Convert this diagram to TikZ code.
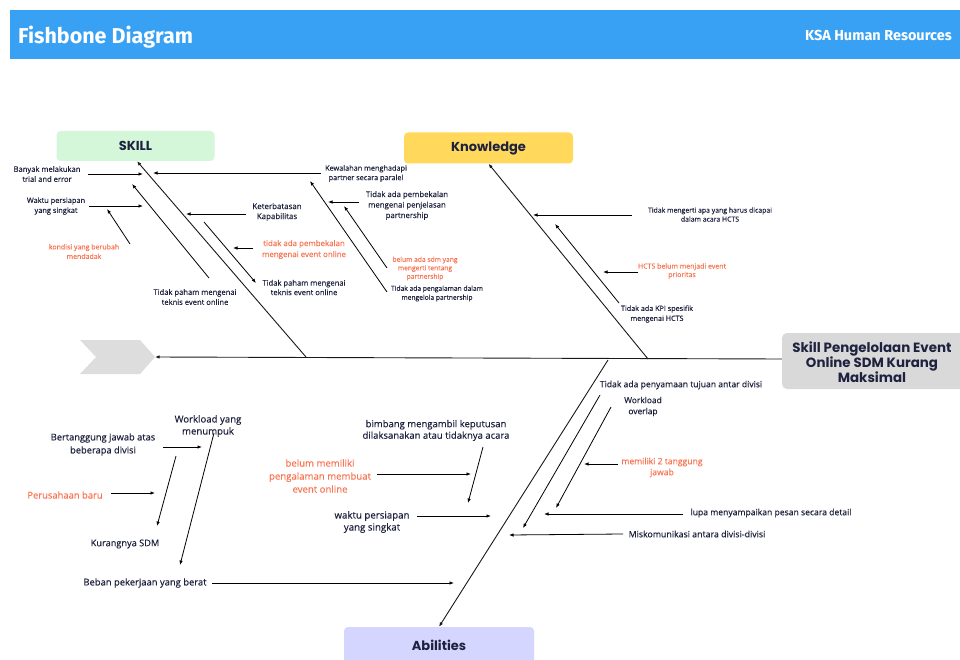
\documentclass[tikz,border=0pt]{standalone}
\usepackage{fontspec}
\setmainfont{Open Sans}[FakeBold=0.35]
\newfontfamily\popp{Poppins}
\newfontfamily\fira{Fira Sans}
\usetikzlibrary{arrows.meta}
\definecolor{hdr}{RGB}{56,161,243}
\definecolor{ink}{RGB}{30,34,62}
\definecolor{orng}{RGB}{248,118,84}
\definecolor{skillc}{RGB}{212,247,218}
\definecolor{knowc}{RGB}{255,216,92}
\definecolor{abilc}{RGB}{212,214,255}
\definecolor{effc}{RGB}{217,217,217}
\definecolor{chevc}{RGB}{221,221,221}
\newcommand\fsz[2]{\fontsize{#1}{#2}\selectfont}
\tikzset{
  lbl/.style={align=center, inner sep=0pt, text=ink},
  orl/.style={lbl, text=orng},
  arr/.style={draw=black, line width=0.8pt, -{Latex[length=4.5pt,width=3.5pt]}},
  bone/.style={arr, draw=black!90, line width=0.9pt},
  catbox/.style={rounded corners=4pt, inner sep=0pt, text=ink, font=\popp\bfseries\fsz{13}{15}}
}
\begin{document}
\begin{tikzpicture}[x=1pt,y=-1pt]
\useasboundingbox (0,0) rectangle (960,660);
\fill[white] (0,0) rectangle (960,660);
% header
\fill[hdr] (10,10) rectangle (960,59);
\node[anchor=base west, inner sep=0pt, text=white, font=\fira\bfseries\fsz{21.5}{24}] (title) at (18,44) {Fishbone Diagram};
\node[anchor=base east, inner sep=0pt, text=white, font=\fira\bfseries\fsz{14.5}{16}] (org) at (952,41) {KSA Human Resources};
% chevron
\fill[chevc] (80,340) -- (140,340) -- (155,357) -- (140,374) -- (80,374) -- (96,357) -- cycle;
\coordinate (tip) at (155,357);
% effect
\node[fill=effc, rounded corners=5pt, minimum width=196pt, minimum height=56pt, inner sep=0pt] (effect) at (880,361) {};
\node[lbl, font=\popp\bfseries\fsz{13.4}{15}] (efftext) at (872,362) {Skill Pengelolaan Event\\Online SDM Kurang\\Maksimal};
% categories
\node[catbox, fill=skillc, minimum width=158pt, minimum height=30pt] (skill) at (135.5,146) {SKILL};
\node[catbox, fill=knowc, minimum width=169pt, minimum height=31pt] (knowledge) at (488.5,148) {Knowledge};
\node[catbox, fill=abilc, minimum width=190pt, minimum height=40pt] (abilities) at (439,647) {};
\node[lbl, font=\popp\bfseries\fsz{13}{15}] (abtext) at (439,645) {Abilities};
% spine and main bones
\draw[bone] ([yshift=2pt]effect.west) -- (tip);
\coordinate (sb) at (306,357);
\coordinate (kb) at (648,359);
\coordinate (ab) at (608,360);
\draw[bone] (sb) -- ([xshift=1.5pt]skill.south);
\draw[bone] (kb) -- (knowledge.south);
\draw[bone] (ab) -- (abilities.north);
% ---------- labels
\node[lbl, font=\fsz{7.6}{10}] (t1) at (47,174) {Banyak melakukan\\trial and error};
\node[lbl, font=\fsz{7.3}{9.5}] (t2) at (366,173.5) {Kewalahan menghadapi\\partner secara paralel};
\node[lbl, font=\fsz{7.4}{10}] (t3) at (56,206) {Waktu persiapan\\yang singkat};
\node[orl, font=\fsz{7}{9.5}] (t4) at (84,251.5) {kondisi yang berubah\\mendadak};
\node[lbl, font=\fsz{7.9}{10}] (t5) at (277,212) {Keterbatasan\\Kapabilitas};
\node[lbl, font=\fsz{7.6}{10}] (t6) at (195,297) {Tidak paham mengenai\\teknis event online};
\node[lbl, font=\fsz{7.6}{9.5}] (t7) at (304,287.5) {Tidak paham mengenai\\teknis event online};
\node[orl, font=\fsz{7.9}{11}] (t8) at (304,249.5) {tidak ada pembekalan\\mengenai event online};
\node[lbl, font=\fsz{7.8}{10.5}] (t9) at (407,205.5) {Tidak ada pembekalan\\mengenai penjelasan\\partnership};
\node[orl, font=\fsz{6.7}{8.5}] (t10) at (425,268.5) {belum ada sdm yang\\mengerti tentang\\partnership};
\node[lbl, font=\fsz{6.7}{9}] (t11) at (437,293.5) {Tidak ada pengalaman dalam\\mengelola partnership};
\node[lbl, font=\fsz{6.9}{9}] (t12) at (710,214.5) {Tidak mengerti apa yang harus dicapai\\dalam acara HCTS};
\node[orl, font=\fsz{7}{8.5}] (t13) at (682,271) {HCTS belum menjadi event\\prioritas};
\node[lbl, font=\fsz{7.2}{10}] (t14) at (657,314) {Tidak ada KPI spesifik\\mengenai HCTS};
\node[lbl, font=\fsz{8.6}{10}] (t15) at (681,385) {Tidak ada penyamaan tujuan antar divisi};
\node[lbl, font=\fsz{8.4}{11}] (t16) at (643,406.5) {Workload\\overlap};
\node[orl, font=\fsz{8.6}{11}] (t17) at (662,467.5) {memiliki 2 tanggung\\jawab};
\node[lbl, font=\fsz{8.6}{10}] (t18) at (771,513) {lupa menyampaikan pesan secara detail};
\node[lbl, font=\fsz{8.8}{10}] (t19) at (697,534) {Miskomunikasi antara divisi-divisi};
\node[lbl, font=\fsz{9.5}{11.5}] (t20) at (436,430.5) {bimbang mengambil keputusan\\dilaksanakan atau tidaknya acara};
\node[orl, font=\fsz{9.6}{13}] (t21) at (320,476) {belum memiliki\\pengalaman membuat\\event online};
\node[lbl, font=\fsz{9.7}{12}] (t22) at (372,522) {waktu persiapan\\yang singkat};
\node[lbl, font=\fsz{9.4}{11}] (t23) at (145,583) {Beban pekerjaan yang berat};
\node[lbl, font=\fsz{9.6}{12}] (t24) at (208,426) {Workload yang\\menumpuk};
\node[lbl, font=\fsz{9.3}{13}] (t25) at (103,444.5) {Bertanggung jawab atas\\beberapa divisi};
\node[orl, font=\fsz{9.4}{11}] (t26) at (65,495) {Perusahaan baru};
\node[lbl, font=\fsz{9.2}{11}] (t27) at (125,544) {Kurangnya SDM};
% ---------- arrow end points
\coordinate (a1s) at (88,174);   \coordinate (a1e) at (143,174);
\coordinate (a2s) at (321,173);  \coordinate (a2e) at (153,173);
\coordinate (a3s) at (89,206);   \coordinate (a3e) at (143,206);
\coordinate (a4s) at (130,244);  \coordinate (a4e) at (107,209);
\coordinate (a5s) at (246,214);  \coordinate (a5e) at (186,214);
\coordinate (a6s) at (209,278);  \coordinate (a6e) at (132,184);
\coordinate (a7s) at (204,222);  \coordinate (a7e) at (256,283);
\coordinate (a8s) at (253,248);  \coordinate (a8e) at (233,248);
\coordinate (a9s) at (359,202);  \coordinate (a9e) at (328,202);
\coordinate (a10s) at (387,292); \coordinate (a10e) at (310,181);
\coordinate (a11s) at (387,268); \coordinate (a11e) at (344,206);
\coordinate (a12s) at (632,215); \coordinate (a12e) at (533,215);
\coordinate (a13s) at (638,272); \coordinate (a13e) at (603,272);
\coordinate (a14s) at (619,303); \coordinate (a14e) at (555,224);
\coordinate (a15s) at (600,395); \coordinate (a15e) at (523,528);
\coordinate (a16s) at (611,407); \coordinate (a16e) at (556,508);
\coordinate (a17s) at (618,464); \coordinate (a17e) at (584,464);
\coordinate (a18s) at (683,514); \coordinate (a18e) at (544,514);
\coordinate (a19s) at (623,534); \coordinate (a19e) at (509,535);
\coordinate (a20s) at (483,447); \coordinate (a20e) at (468,503);
\coordinate (a21s) at (377,474); \coordinate (a21e) at (471,474);
\coordinate (a22s) at (417,516); \coordinate (a22e) at (491,516);
\coordinate (a23s) at (212,583); \coordinate (a23e) at (454,583);
\coordinate (a24s) at (214,433); \coordinate (a24e) at (180,565);
\coordinate (a25s) at (163,447); \coordinate (a25e) at (202,447);
\coordinate (a26s) at (111,493); \coordinate (a26e) at (155,493);
\coordinate (a27s) at (176,456); \coordinate (a27e) at (157,526);
\foreach \i in {1,...,27} {\draw[arr] (a\i s) -- (a\i e);}
\end{tikzpicture}
\end{document}
